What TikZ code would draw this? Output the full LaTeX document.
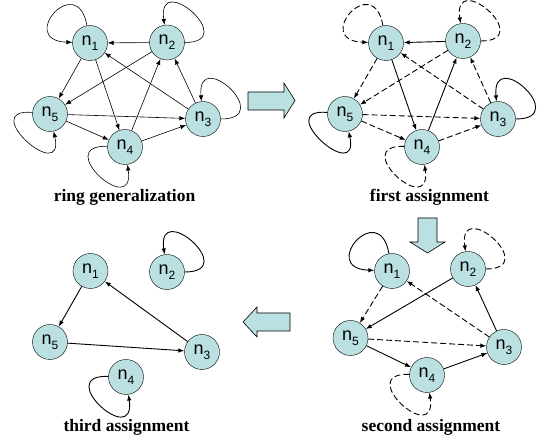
\documentclass[tikz,border=0pt]{standalone}
\usepackage{fontspec}
\setmainfont{Liberation Serif}
\newfontfamily\nodefont{Liberation Sans}
\usetikzlibrary{arrows.meta}
\definecolor{nodecyan}{RGB}{186,224,226}
\newcommand{\nlab}[1]{n\raisebox{-0.28em}{\fontsize{12}{12}\selectfont #1}}

\begin{document}
\begin{tikzpicture}[
    x=1pt, y=1pt,
    state/.style={circle, draw, fill=nodecyan, minimum size=35pt, inner sep=0pt, font=\nodefont\fontsize{18}{18}\selectfont},
    caption/.style={font=\bfseries\fontsize{17.5}{17.5}\selectfont, anchor=base},
    link/.style={-{Latex[length=6pt,width=4.5pt]}, line width=0.9pt},
    thinlink/.style={link, line width=0.6pt},
    dashlink/.style={link, dash pattern=on 6pt off 3pt},
    bigarrow/.style={draw, line width=0.6pt, fill=nodecyan},
    loop1/.style={out=100, in=178, distance=56pt},
    loop2/.style={out=0, in=98, distance=56pt},
    loop3/.style={out=0, in=95, distance=56pt},
    loop4/.style={out=178, in=-82, distance=56pt},
    loop5/.style={out=175, in=-78, distance=56pt},
]
\useasboundingbox (0,0) rectangle (541,441);

% ---------- ring generalization (top left) ----------
\node[state] (r1) at (90,398) {\nlab{1}};
\node[state] (r2) at (167,398.5) {\nlab{2}};
\node[state] (r5) at (50,327) {\nlab{5}};
\node[state] (r4) at (125,294) {\nlab{4}};
\node[state] (r3) at (203,322) {\nlab{3}};
\node[caption] (rcap) at (124.5,239.5) {ring generalization};

\draw[thinlink] (r2) -- (r1);
\draw[thinlink] (r1) -- (r5);
\draw[thinlink] (r1) -- (r4);
\draw[thinlink] (r2) -- (r5);
\draw[thinlink] (r4) -- (r2);
\draw[thinlink] (r3) -- (r2);
\draw[thinlink] (r3) -- (r1);
\draw[thinlink] (r5) -- (r3);
\draw[thinlink] (r5) -- (r4);
\draw[thinlink] (r4) -- (r3);
\draw[thinlink] (r1) to[loop1] (r1);
\draw[thinlink] (r2) to[loop2] (r2);
\draw[thinlink] (r3) to[loop3] (r3);
\draw[thinlink] (r4) to[loop4] (r4);
\draw[thinlink] (r5) to[loop5] (r5);

% ---------- first assignment (top right) ----------
\node[state] (f1) at (386,398) {\nlab{1}};
\node[state] (f2) at (463,400) {\nlab{2}};
\node[state] (f5) at (345,327) {\nlab{5}};
\node[state] (f4) at (422,294) {\nlab{4}};
\node[state] (f3) at (498,322) {\nlab{3}};
\node[caption] (fcap) at (429.5,239.5) {first assignment};

\draw[link] (f2) -- (f1);
\draw[link] (f1) -- (f4);
\draw[link] (f4) -- (f2);
\draw[dashlink] (f1) -- (f5);
\draw[dashlink] (f2) -- (f5);
\draw[dashlink] (f3) -- (f1);
\draw[dashlink] (f3) -- (f2);
\draw[dashlink] (f5) -- (f3);
\draw[dashlink] (f5) -- (f4);
\draw[dashlink] (f4) -- (f3);
\draw[dashlink] (f1) to[loop1] (f1);
\draw[dashlink] (f2) to[loop2] (f2);
\draw[link] (f3) to[loop3] (f3);
\draw[dashlink] (f4) to[loop4] (f4);
\draw[link] (f5) to[loop5] (f5);

% ---------- second assignment (bottom right) ----------
\node[state] (s1) at (392,170) {\nlab{1}};
\node[state] (s2) at (468,172) {\nlab{2}};
\node[state] (s5) at (350.5,103) {\nlab{5}};
\node[state] (s4) at (427,66) {\nlab{4}};
\node[state] (s3) at (504,94) {\nlab{3}};
\node[caption] (scap) at (431,9.5) {second assignment};

\draw[link] (s2) -- (s5);
\draw[link] (s5) -- (s4);
\draw[link] (s4) -- (s3);
\draw[link] (s3) -- (s2);
\draw[dashlink] (s1) -- (s5);
\draw[dashlink] (s3) -- (s1);
\draw[dashlink] (s5) -- (s3);
\draw[link] (s1) to[loop1] (s1);
\draw[dashlink] (s2) to[loop2] (s2);
\draw[dashlink] (s4) to[loop4] (s4);

% ---------- third assignment (bottom left) ----------
\node[state] (t1) at (90.5,170) {\nlab{1}};
\node[state] (t2) at (167,169) {\nlab{2}};
\node[state] (t5) at (50,99) {\nlab{5}};
\node[state] (t4) at (126,64) {\nlab{4}};
\node[state] (t3) at (202,89) {\nlab{3}};
\node[caption] (tcap) at (126.5,9.5) {third assignment};

\draw[link] (t1) -- (t5);
\draw[link] (t5) -- (t3);
\draw[link] (t3) -- (t1);
\draw[link] (t2) to[loop2] (t2);
\draw[link] (t4) to[loop4] (t4);

% ---------- block arrows between the steps ----------
\draw[bigarrow] (248,349) -- (284,349) -- (284,358) -- (295,340.5) -- (284,323) -- (284,331) -- (248,331) -- cycle;
\draw[bigarrow] (418,223) -- (437,223) -- (437,199) -- (445,199) -- (427.5,188) -- (410,199) -- (418,199) -- cycle;
\draw[bigarrow] (290,128) -- (257,128) -- (257,134) -- (243,119) -- (257,104) -- (257,110) -- (290,110) -- cycle;

\end{tikzpicture}
\end{document}
